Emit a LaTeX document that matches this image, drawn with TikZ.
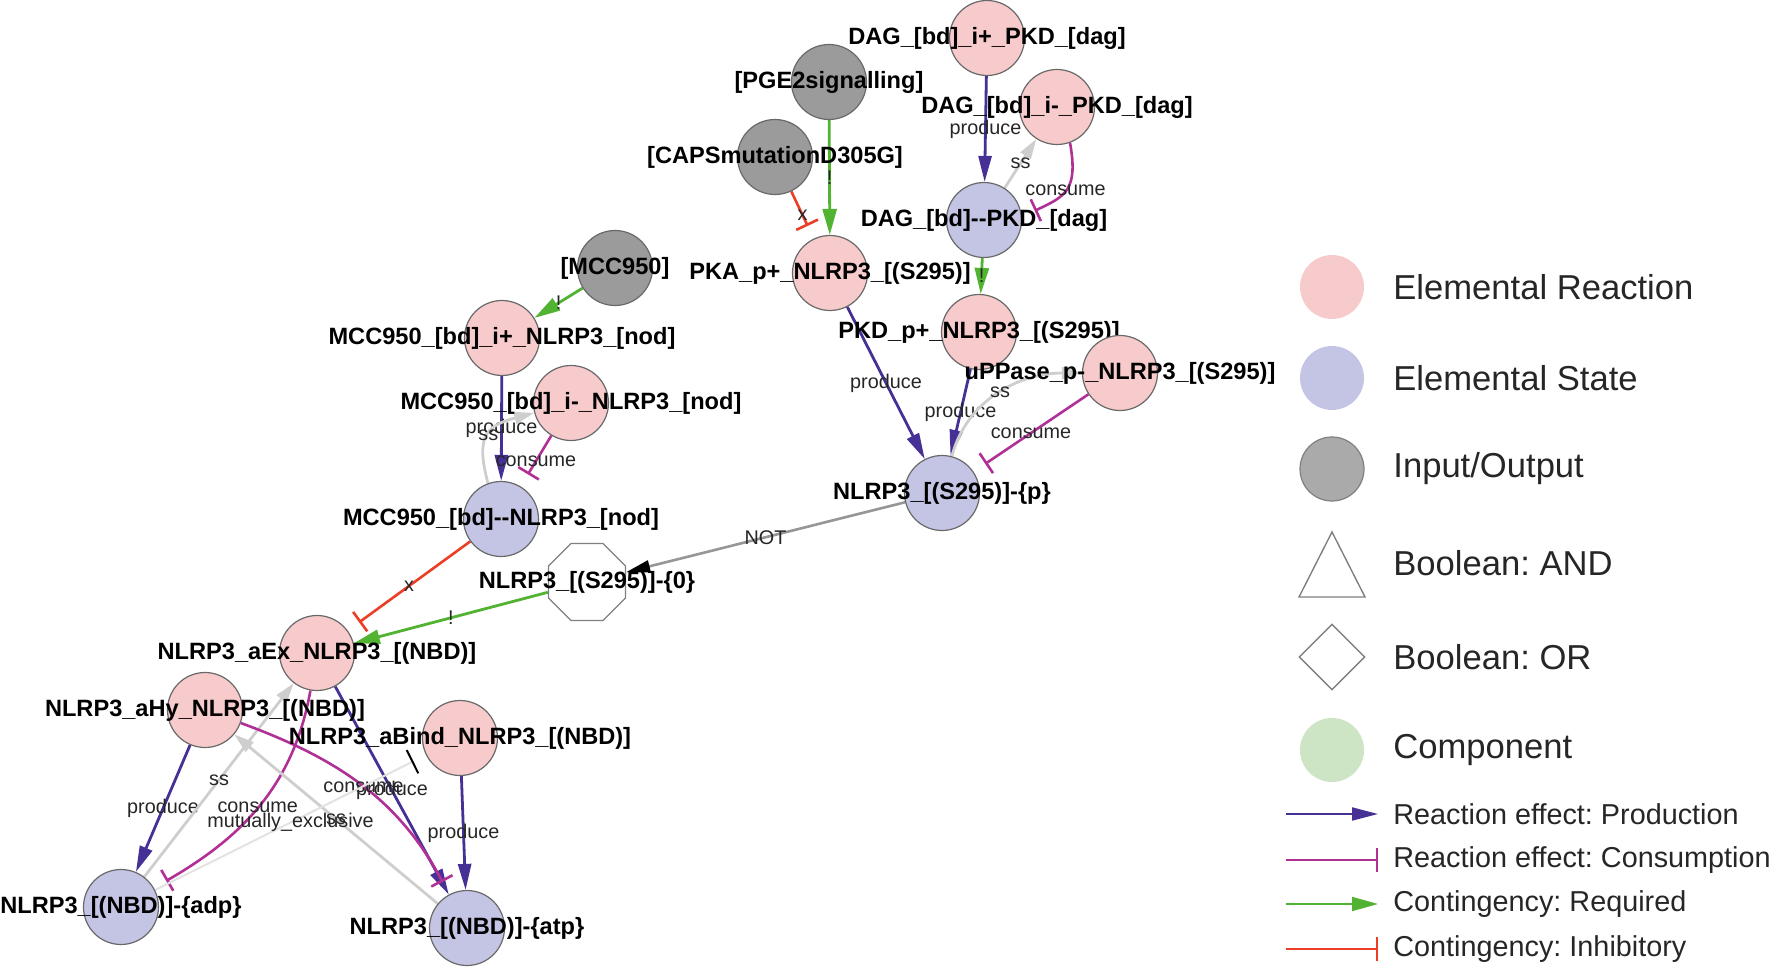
\documentclass[tikz,border=0pt]{standalone}
\usepackage{fontspec}
\setmainfont{Liberation Sans}
\usetikzlibrary{arrows.meta,shapes.geometric,backgrounds}
\frenchspacing

\definecolor{rxnfill}{RGB}{247,203,204}
\definecolor{statefill}{RGB}{196,197,228}
\definecolor{iofill}{RGB}{155,155,155}
\definecolor{compfill}{RGB}{205,228,197}
\definecolor{nodeline}{RGB}{105,105,105}
\definecolor{prodcol}{RGB}{70,48,150}
\definecolor{conscol}{RGB}{176,48,150}
\definecolor{reqcol}{RGB}{82,178,50}
\definecolor{inhcol}{RGB}{236,62,38}
\definecolor{sscol}{RGB}{206,206,206}
\definecolor{notcol}{RGB}{150,150,150}
\definecolor{mutcol}{RGB}{226,226,226}

\newcommand{\nodefont}{\fontsize{11.8}{13}\selectfont\bfseries}
\newcommand{\edgefont}{\fontsize{9.9}{11}\selectfont}
\newcommand{\legfont}{\fontsize{17.3}{19}\selectfont}
\newcommand{\legsmall}{\fontsize{14.4}{16}\selectfont}

\tikzset{
  basenode/.style={circle, draw=nodeline, line width=0.6pt, minimum size=37.5pt, inner sep=0pt},
  rxnnode/.style={basenode, fill=rxnfill},
  statenode/.style={basenode, fill=statefill},
  ionode/.style={basenode, fill=iofill},
  boolnode/.style={regular polygon, regular polygon sides=8, draw=gray, line width=0.6pt,
    fill=white, minimum size=41.7pt, inner sep=0pt},
  lbl/.style={font=\nodefont, text=black, inner sep=0pt},
  elab/.style={font=\edgefont, text=black!85, inner sep=0pt},
  produce/.style={draw=prodcol, line width=1.4pt, -{Triangle[length=13pt,width=6.5pt]}},
  consume/.style={draw=conscol, line width=1.3pt, -{Bar[width=12pt]}, shorten >=7pt},
  required/.style={draw=reqcol, line width=1.4pt, -{Triangle[length=13pt,width=7pt]}},
  inhibit/.style={draw=inhcol, line width=1.3pt, -{Bar[width=12pt]}, shorten >=7pt},
  ss/.style={draw=sscol, line width=1.4pt, -{Triangle[length=10pt,width=6pt]}},
  notedge/.style={draw=notcol, line width=1.3pt, -{Triangle[length=12pt,width=6pt,color=black]}},
  mutex/.style={draw=mutcol, line width=1pt, -{Bar[width=13pt,color=black]}, shorten >=7pt},
  legtext/.style={font=\legfont, text=black!85, anchor=west, inner sep=0pt},
  legsmalltext/.style={font=\legsmall, text=black!85, anchor=west, inner sep=0pt},
  legshape/.style={draw=gray, line width=0.7pt, fill=white},
}

\begin{document}
\begin{tikzpicture}[x=0.5pt,y=0.5pt]
\useasboundingbox (0,0) rectangle (1772,-968);

% nodes
\node[rxnnode, label={[lbl]center:{DAG\_[bd]\_i+\_PKD\_[dag]}}] (dagip) at (987,-38) {};
\node[ionode, label={[lbl]center:{[PGE2signalling]}}] (pge) at (829,-82) {};
\node[rxnnode, label={[lbl]center:{DAG\_[bd]\_i-\_PKD\_[dag]}}] (dagim) at (1057,-107) {};
\node[ionode, label={[lbl]center:{[CAPSmutationD305G]}}] (caps) at (775,-157) {};
\node[statenode, label={[lbl]center:{DAG\_[bd]-{}-PKD\_[dag]}}] (dagst) at (984,-220) {};
\node[rxnnode, label={[lbl]center:{PKA\_p+\_NLRP3\_[(S295)]}}] (pka) at (830,-273) {};
\node[ionode, label={[lbl]center:{[MCC950]}}] (mcc) at (615,-268) {};
\node[rxnnode, label={[lbl]center:{MCC950\_[bd]\_i+\_NLRP3\_[nod]}}] (mccip) at (502,-338) {};
\node[rxnnode, label={[lbl]center:{PKD\_p+\_NLRP3\_[(S295)]}}] (pkd) at (979,-332) {};
\node[rxnnode, label={[lbl]center:{uPPase\_p-\_NLRP3\_[(S295)]}}] (uppase) at (1120,-373) {};
\node[rxnnode, label={[lbl]center:{MCC950\_[bd]\_i-\_NLRP3\_[nod]}}] (mccim) at (571,-403) {};
\node[statenode, label={[lbl]center:{NLRP3\_[(S295)]-\{p\}}}] (sp) at (942,-493) {};
\node[statenode, label={[lbl]center:{MCC950\_[bd]-{}-NLRP3\_[nod]}}] (mccst) at (501,-519) {};
\node[boolnode, label={[lbl]center:{NLRP3\_[(S295)]-\{0\}}}] (szero) at (587,-582) {};
\node[rxnnode, label={[lbl]center:{NLRP3\_aEx\_NLRP3\_[(NBD)]}}] (aex) at (317,-653) {};
\node[rxnnode, label={[lbl]center:{NLRP3\_aHy\_NLRP3\_[(NBD)]}}] (ahy) at (205,-710) {};
\node[rxnnode, label={[lbl]center:{NLRP3\_aBind\_NLRP3\_[(NBD)]}}] (abind) at (460,-738) {};
\node[statenode, label={[lbl]center:{NLRP3\_[(NBD)]-\{adp\}}}] (adp) at (121,-907) {};
\node[statenode, label={[lbl]center:{NLRP3\_[(NBD)]-\{atp\}}}] (atp) at (467,-928) {};

% edges
\begin{scope}[on background layer]
\draw[produce] (dagip) -- node[elab]{produce} (dagst);
\draw[ss] (dagst) -- node[elab]{ss} (dagim);
\draw[consume] (dagim.-70) to[out=-80,in=25,looseness=1.4] node[elab]{consume} (dagst.5);
\draw[required] (pge) -- node[elab]{!} (pka);
\draw[inhibit] (caps) -- node[elab]{x} (pka);
\draw[required] (dagst) -- node[elab]{!} (pkd);
\draw[required] (mcc) -- node[elab]{!} (mccip);
\draw[produce] (mccip) -- node[elab]{produce} (mccst);
\draw[ss] (mccst.110) to[out=105,in=195,looseness=1.5] node[elab]{ss} (mccim.195);
\draw[consume] (mccim) -- node[elab]{consume} (mccst);
\draw[produce] (pka) -- node[elab]{produce} (sp);
\draw[produce] (pkd) -- node[elab]{produce} (sp);
\draw[ss] (sp) to[out=75,in=180] node[elab]{ss} (uppase);
\draw[consume] (uppase) -- node[elab]{consume} (sp);
\draw[notedge] (sp) -- node[elab]{NOT} (szero);
\draw[inhibit] (mccst) -- node[elab]{x} (aex);
\draw[required] (szero) -- node[elab]{!} (aex);
\draw[produce] (aex) -- node[elab]{produce} (atp);
\draw[consume] (aex) to[out=-100,in=30] node[elab]{consume} (adp);
\draw[produce] (ahy) -- node[elab]{produce} (adp);
\draw[ss] (adp) -- node[elab]{ss} (aex);
\draw[ss] (atp) -- node[elab]{ss} (ahy);
\draw[consume] (ahy) to[out=-20,in=118] node[elab]{consume} (atp);
\draw[produce] (abind) -- node[elab]{produce} (atp);
\draw[mutex] (adp) -- node[elab]{mutually\_exclusive} (abind);
\end{scope}

% legend
\node[circle, fill=rxnfill, minimum size=32pt, inner sep=0pt] (legrxn) at (1332,-287) {};
\node[legtext] (legrxntxt) at (1393,-287) {Elemental Reaction};
\node[circle, fill=statefill, minimum size=32pt, inner sep=0pt] (legstate) at (1332,-378) {};
\node[legtext] (legstatetxt) at (1393,-378) {Elemental State};
\node[circle, fill=iofill!85!white, draw=gray, line width=0.6pt, minimum size=32pt, inner sep=0pt] (legio) at (1332,-469) {};
\node[legtext] (legiotxt) at (1393,-469) {Input/Output};
\draw[legshape] (1299,-597) -- (1332,-532) -- (1365,-597) -- cycle;
\node[legtext] (legandtxt) at (1393,-563) {Boolean: AND};
\node[legshape, diamond, minimum width=33pt, minimum height=33pt, inner sep=0pt] (legor) at (1332,-657) {};
\node[legtext] (legortxt) at (1393,-657) {Boolean: OR};
\node[circle, fill=compfill, minimum size=32pt, inner sep=0pt] (legcomp) at (1332,-750) {};
\node[legtext] (legcomptxt) at (1393,-750) {Component};
\foreach \y/\sty/\txt [count=\i] in {814/produce/{Reaction effect: Production},
    860/consume/{Reaction effect: Consumption}, 904/required/{Contingency: Required},
    949/inhibit/{Contingency: Inhibitory}} {
  \coordinate (lega\i) at (1286,-\y);
  \coordinate (legb\i) at (1378,-\y);
  \draw[\sty, line width=1pt, shorten >=0pt] (lega\i) -- (legb\i);
  \node[legsmalltext] (legline\i) at (1393,-\y) {\txt};
}
\end{tikzpicture}
\end{document}
